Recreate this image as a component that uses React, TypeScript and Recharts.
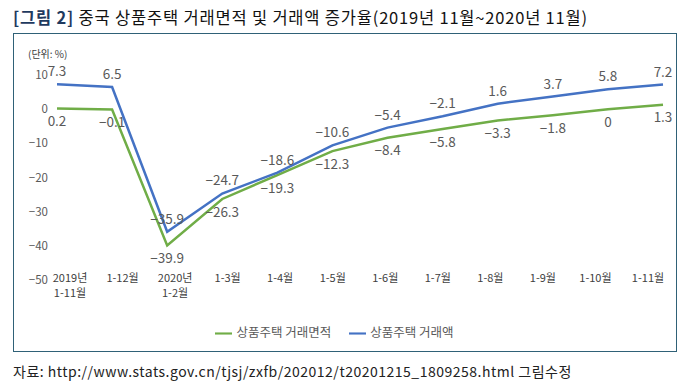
import React from "react";
import { LineChart, Line, XAxis, YAxis, Legend, LabelList } from "recharts";

const CATEGORIES = [
  "2019년\n1-11월",
  "1-12월",
  "2020년\n1-2월",
  "1-3월",
  "1-4월",
  "1-5월",
  "1-6월",
  "1-7월",
  "1-8월",
  "1-9월",
  "1-10월",
  "1-11월",
];

// 상품주택 거래면적 (%)
const AREA = [0.2, -0.1, -39.9, -26.3, -19.3, -12.3, -8.4, -5.8, -3.3, -1.8, 0, 1.3];
// 상품주택 거래액 (%)
const AMOUNT = [7.3, 6.5, -35.9, -24.7, -18.6, -10.6, -5.4, -2.1, 1.6, 3.7, 5.8, 7.2];

const Y_TICKS = [10, 0, -10, -20, -30, -40, -50];

const FONT = '"Noto Sans CJK KR", "Noto Sans", sans-serif';
const GREEN = "#70ad47";
const BLUE = "#4472c4";

const data = CATEGORIES.map((cat, i) => ({ cat, area: AREA[i], amount: AMOUNT[i] }));

const fmt = (v: number) => String(v).replace("-", "\u2212");

function CatTick(props: any) {
  const { x, y, payload } = props;
  const lines = String(payload.value).split("\n");
  return (
    <text x={x} y={y} textAnchor="middle" fontSize={11} fill="#404040" fontFamily={FONT}>
      {lines.map((l, i) => (
        <tspan key={i} x={x} dy={i === 0 ? 2 : 15}>
          {l}
        </tspan>
      ))}
    </text>
  );
}

export default function App() {
  return (
    <div style={{ position: "absolute", left: 0, top: 0, width: 687, height: 391, background: "#fff", fontFamily: FONT }}>
      <div style={{ position: "absolute", left: 13, top: 5, fontSize: 16.5, letterSpacing: 0.8, whiteSpace: "nowrap", color: "#111" }}>
        <span style={{ color: "#1f3a5f", fontWeight: 700 }}>[그림 2]</span> 중국 상품주택 거래면적 및 거래액 증가율(2019년 11월~2020년 11월)
      </div>
      <div
        style={{
          position: "absolute",
          left: 13,
          top: 33,
          width: 662,
          height: 317,
          border: "1.5px solid #2f6177",
        }}
      />
      <div style={{ position: "absolute", left: 28, top: 46, fontSize: 10, color: "#404040" }}>(단위: %)</div>
      <div style={{ position: "absolute", left: 0, top: 0 }}>
        <LineChart width={687} height={391} data={data} margin={{ top: 75, right: 19, left: 0, bottom: 61 }}>
          <XAxis xAxisId="pts" dataKey="cat" hide padding={{ left: 5, right: 5 }} />
          <XAxis
            xAxisId="lbl"
            dataKey="cat"
            height={30}
            interval={0}
            axisLine={false}
            tickLine={false}
            tickSize={0}
            tickMargin={0}
            padding={{ left: 18, right: 20 }}
            tick={<CatTick />}
          />
          <YAxis
            domain={[-50, 10]}
            ticks={Y_TICKS}
            width={52}
            axisLine={false}
            tickLine={false}
            tickSize={0}
            tickMargin={4}
            tickFormatter={fmt}
            tick={{ fontSize: 11.5, fill: "#595959", fontFamily: FONT }}
          />
          <Legend
            verticalAlign="bottom"
            iconType="plainline"
            iconSize={17}
            wrapperStyle={{ position: "absolute", top: 322, left: 0, width: 687, fontSize: 12.5, fontFamily: FONT }}
            formatter={(v: string) => <span style={{ color: "#595959", marginRight: 8 }}>{v}</span>}
          />
          <Line
            xAxisId="pts"
            dataKey="area"
            name="상품주택 거래면적"
            stroke={GREEN}
            strokeWidth={2.5}
            dot={false}
            isAnimationActive={false}
          >
            <LabelList dataKey="area" position="bottom" offset={8} formatter={fmt} fontSize={13.5} fill="#595959" fontFamily={FONT} />
          </Line>
          <Line
            xAxisId="pts"
            dataKey="amount"
            name="상품주택 거래액"
            stroke={BLUE}
            strokeWidth={2.5}
            dot={false}
            isAnimationActive={false}
          >
            <LabelList dataKey="amount" position="top" offset={8} formatter={fmt} fontSize={13.5} fill="#595959" fontFamily={FONT} />
          </Line>
        </LineChart>
      </div>
      <div style={{ position: "absolute", left: 13, top: 361, fontSize: 14, letterSpacing: 0.5, color: "#222", whiteSpace: "nowrap" }}>
        자료: http://www.stats.gov.cn/tjsj/zxfb/202012/t20201215_1809258.html 그림수정
      </div>
    </div>
  );
}
